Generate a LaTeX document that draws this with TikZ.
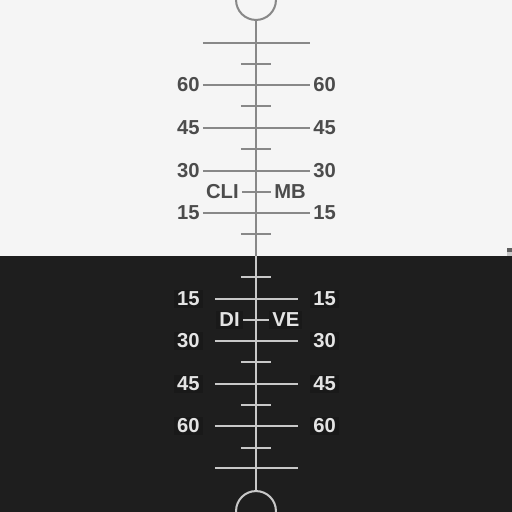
\documentclass[tikz,border=0pt]{standalone}
\usepackage{fontspec}
\setmainfont{Liberation Sans}
\usetikzlibrary{positioning}
\definecolor{sky}{HTML}{F5F5F5}
\definecolor{ground}{HTML}{1E1E1E}
\definecolor{rungup}{HTML}{888888}
\definecolor{rungdown}{HTML}{C8C8C8}
\definecolor{textup}{HTML}{4C4C4C}
\definecolor{textdown}{HTML}{E4E4E4}
\tikzset{
  uprung/.style    = {draw=rungup, line width=1.15pt},
  downrung/.style  = {draw=rungdown, line width=1.15pt},
  spine/.style     = {line width=1.7pt},
  ball/.style      = {circle, line width=1.15pt, minimum size=22.7pt, inner sep=0pt},
  uplabel/.style   = {font=\bfseries\fontsize{11.5}{12}\selectfont, text=textup,
                      inner xsep=1.7pt, inner ysep=0pt},
  downlabel/.style = {font=\bfseries\fontsize{11.5}{12}\selectfont, text=textdown,
                      fill=ground!82!black, inner xsep=1.7pt, inner ysep=1pt},
  cut/.style       = {shorten <=6.8pt, shorten >=6.8pt},
}

\begin{document}
\begin{tikzpicture}[x=0.02cm, y=-0.02cm]

  \useasboundingbox (0,0) rectangle (512,512);
  \fill[sky] (0,0) rectangle (512,255.5);
  \fill[ground] (0,255.5) rectangle (512,512);
  \fill[rungup!70!black] (507,248) rectangle (512,252);
  \fill[rungdown] (507,252) rectangle (512,256);

  % spine and the two balls
  \node[ball, draw=rungup, fill=sky] (topball) at (256,0) {};
  \node[ball, draw=rungdown, fill=ground] (botball) at (256,511) {};
  \coordinate (horizon) at (256,255.5);
  \draw[spine, draw=rungup] (topball.south) -- (horizon);
  \draw[spine, draw=rungdown] (horizon) -- (botball.north);

  % climb side
  \coordinate (c0a) at (203,43);  \coordinate (c0b) at (310,43);
  \draw[uprung] (c0a) -- (c0b);

  \coordinate (t1a) at (241,64);  \coordinate (t1b) at (271,64);
  \draw[uprung] (t1a) -- (t1b);

  \node[uplabel, anchor=east] (cl60) at (203,85) {60};
  \node[uplabel, anchor=west] (cr60) at (310,85) {60};
  \draw[uprung] (cl60) -- (cr60);

  \coordinate (t2a) at (241,106); \coordinate (t2b) at (271,106);
  \draw[uprung] (t2a) -- (t2b);

  \node[uplabel, anchor=east] (cl45) at (203,128) {45};
  \node[uplabel, anchor=west] (cr45) at (310,128) {45};
  \draw[uprung] (cl45) -- (cr45);

  \coordinate (t3a) at (241,149); \coordinate (t3b) at (271,149);
  \draw[uprung] (t3a) -- (t3b);

  \node[uplabel, anchor=east] (cl30) at (203,171) {30};
  \node[uplabel, anchor=west] (cr30) at (310,171) {30};
  \draw[uprung] (cl30) -- (cr30);

  \node[uplabel, anchor=east] (cli) at (242,192) {CLI};
  \node[uplabel, anchor=west] (mb) at (271,192) {MB};
  \draw[uprung] (cli) -- (mb);

  \node[uplabel, anchor=east] (cl15) at (203,213) {15};
  \node[uplabel, anchor=west] (cr15) at (310,213) {15};
  \draw[uprung] (cl15) -- (cr15);

  \coordinate (t4a) at (241,234); \coordinate (t4b) at (271,234);
  \draw[uprung] (t4a) -- (t4b);

  % dive side
  \coordinate (t5a) at (241,277); \coordinate (t5b) at (271,277);
  \draw[downrung] (t5a) -- (t5b);

  \node[downlabel, anchor=east] (dl15) at (203,299) {15};
  \node[downlabel, anchor=west] (dr15) at (310,299) {15};
  \draw[downrung, cut] (dl15) -- (dr15);

  \node[downlabel, anchor=east] (di) at (243,320) {DI};
  \node[downlabel, anchor=west] (ve) at (269,320) {VE};
  \draw[downrung] (di) -- (ve);

  \node[downlabel, anchor=east] (dl30) at (203,341) {30};
  \node[downlabel, anchor=west] (dr30) at (310,341) {30};
  \draw[downrung, cut] (dl30) -- (dr30);

  \coordinate (t6a) at (241,362); \coordinate (t6b) at (271,362);
  \draw[downrung] (t6a) -- (t6b);

  \node[downlabel, anchor=east] (dl45) at (203,384) {45};
  \node[downlabel, anchor=west] (dr45) at (310,384) {45};
  \draw[downrung, cut] (dl45) -- (dr45);

  \coordinate (t7a) at (241,405); \coordinate (t7b) at (271,405);
  \draw[downrung] (t7a) -- (t7b);

  \node[downlabel, anchor=east] (dl60) at (203,426) {60};
  \node[downlabel, anchor=west] (dr60) at (310,426) {60};
  \draw[downrung, cut] (dl60) -- (dr60);

  \coordinate (t8a) at (241,448); \coordinate (t8b) at (271,448);
  \draw[downrung] (t8a) -- (t8b);

  \coordinate (d0a) at (215,468); \coordinate (d0b) at (298,468);
  \draw[downrung] (d0a) -- (d0b);

\end{tikzpicture}
\end{document}
